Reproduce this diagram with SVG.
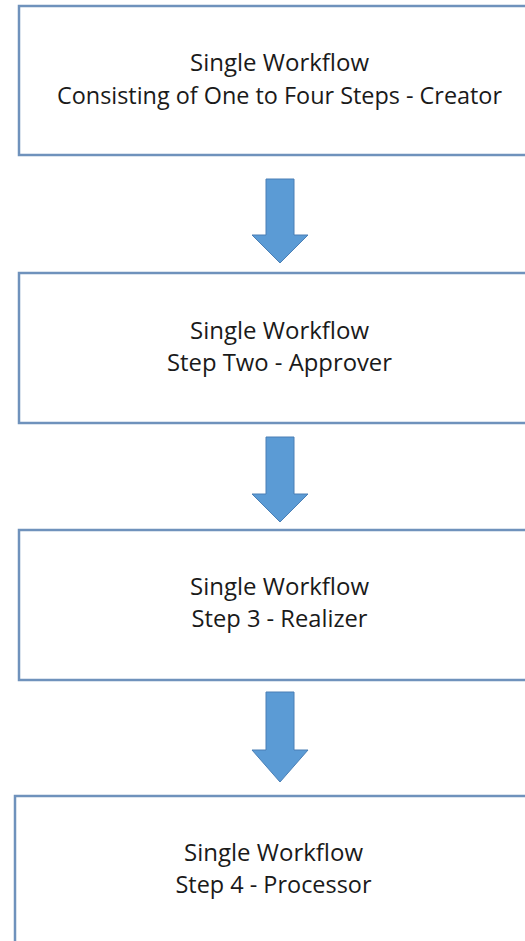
<svg xmlns="http://www.w3.org/2000/svg" width="525" height="941" viewBox="0 0 525 941">
<style>
.box{fill:#ffffff;stroke:#6f92bc;stroke-width:2.5}
.arrow{fill:#5b9bd5;stroke:#4a7fb5;stroke-width:1}
.t{font-family:"Open Sans","Liberation Sans",sans-serif;font-size:23px;fill:#1a1a1a;text-anchor:middle}
</style>
<rect width="525" height="941" fill="#ffffff"/>
<g id="connectors">
<path class="arrow" d="M266,179 H294 V235 H308 L280,263 L252,235 H266 Z"/>
<path class="arrow" d="M266,437 H294 V494 H308 L280,522 L252,494 H266 Z"/>
<path class="arrow" d="M266,692 H294 V750 H308 L280,782 L252,750 H266 Z"/>
</g>
<g id="node1">
<rect class="box" x="19" y="6" width="530" height="149"/>
<text class="t" x="279.5" y="71" textLength="179" lengthAdjust="spacingAndGlyphs">Single Workflow</text>
<text class="t" x="279.5" y="104" textLength="445" lengthAdjust="spacingAndGlyphs">Consisting of One to Four Steps - Creator</text>
</g>
<g id="node2">
<rect class="box" x="19" y="273" width="530" height="150"/>
<text class="t" x="279.5" y="339" textLength="179" lengthAdjust="spacingAndGlyphs">Single Workflow</text>
<text class="t" x="279.5" y="371" textLength="225" lengthAdjust="spacingAndGlyphs">Step Two - Approver</text>
</g>
<g id="node3">
<rect class="box" x="19" y="530" width="530" height="150"/>
<text class="t" x="279.5" y="595" textLength="179" lengthAdjust="spacingAndGlyphs">Single Workflow</text>
<text class="t" x="279.5" y="627" textLength="176" lengthAdjust="spacingAndGlyphs">Step 3 - Realizer</text>
</g>
<g id="node4">
<rect class="box" x="15" y="796" width="530" height="160"/>
<text class="t" x="273.5" y="861" textLength="179" lengthAdjust="spacingAndGlyphs">Single Workflow</text>
<text class="t" x="273.5" y="893" textLength="196" lengthAdjust="spacingAndGlyphs">Step 4 - Processor</text>
</g>
</svg>
